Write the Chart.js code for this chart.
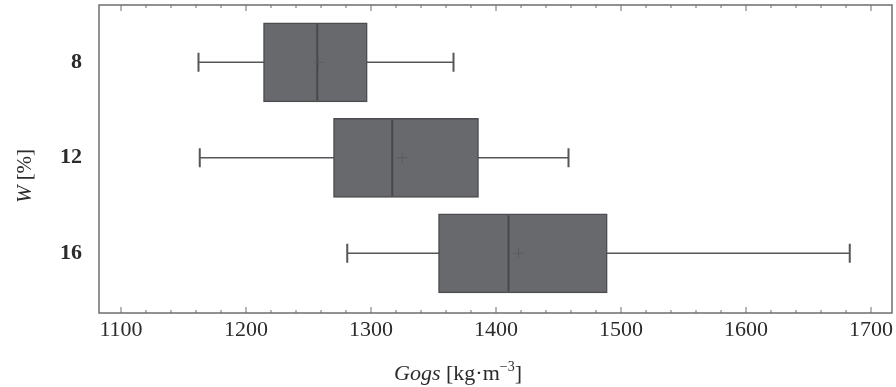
<!DOCTYPE html>
<html>
<head>
<meta charset="utf-8">
<script src="https://cdn.jsdelivr.net/npm/chart.js@4.4.1/dist/chart.umd.min.js"></script>
<style>
  html, body { margin: 0; padding: 0; background: #fff; }
  #wrap { width: 896px; height: 387px; position: relative; }
</style>
</head>
<body>
<div id="wrap"><canvas id="chart" width="896" height="387"></canvas></div>
<script>
// W [%] groups and their box-plot statistics (Gogs, kg/m3)
const groups = [8, 12, 16];
const whiskerLow = [1162, 1163, 1281];
const quartile1 = [1214, 1270, 1354];
const medians = [1257, 1317, 1410];
const means = [1258, 1325, 1418];
const quartile3 = [1297, 1386, 1489];
const whiskerHigh = [1366, 1458, 1683];

const xTicks = [1100, 1200, 1300, 1400, 1500, 1600, 1700];
const xMinorStep = 20;

const boxFill = '#68696d';
const boxEdge = '#4c4d51';
const lineColor = '#55565a';
const frameColor = '#6e6e6e';
const textColor = '#2b2b2b';
const serif = '"Liberation Serif", "DejaVu Serif", serif';

// whiskers, medians, means, frame and inward ticks
const boxExtras = {
  id: 'boxExtras',
  beforeDatasetsDraw(chart) {
    const { ctx, scales: { x, y } } = chart;
    ctx.save();
    ctx.strokeStyle = lineColor;
    groups.forEach((g, i) => {
      const cy = y.getPixelForValue(g);
      const lo = x.getPixelForValue(whiskerLow[i]);
      const hi = x.getPixelForValue(whiskerHigh[i]);
      ctx.lineWidth = 1.5;
      ctx.beginPath();
      ctx.moveTo(lo, cy); ctx.lineTo(hi, cy);
      ctx.stroke();
      ctx.lineWidth = 2;
      ctx.beginPath();
      ctx.moveTo(lo, cy - 9.5); ctx.lineTo(lo, cy + 9.5);
      ctx.moveTo(hi, cy - 9.5); ctx.lineTo(hi, cy + 9.5);
      ctx.stroke();
    });
    ctx.restore();
  },
  afterDatasetsDraw(chart) {
    const { ctx, chartArea: a, scales: { x, y } } = chart;
    ctx.save();
    groups.forEach((g, i) => {
      const cy = y.getPixelForValue(g);
      const half = 38;
      const mx = x.getPixelForValue(medians[i]);
      ctx.strokeStyle = '#47484b';
      ctx.lineWidth = 2;
      ctx.beginPath();
      ctx.moveTo(mx, cy - half); ctx.lineTo(mx, cy + half);
      ctx.stroke();
      const px = x.getPixelForValue(means[i]);
      ctx.strokeStyle = '#5a5b5e';
      ctx.lineWidth = 1;
      ctx.beginPath();
      ctx.moveTo(px - 5, cy); ctx.lineTo(px + 5, cy);
      ctx.moveTo(px, cy - 5); ctx.lineTo(px, cy + 5);
      ctx.stroke();
    });

    // frame
    ctx.strokeStyle = frameColor;
    ctx.lineWidth = 1.5;
    ctx.strokeRect(a.left, a.top, a.right - a.left, a.bottom - a.top);

    // inward ticks on bottom and top
    ctx.lineWidth = 1;
    for (let v = xTicks[0]; v <= xTicks[xTicks.length - 1]; v += xMinorStep) {
      const px = x.getPixelForValue(v);
      const len = xTicks.includes(v) ? 6 : 3;
      ctx.beginPath();
      ctx.moveTo(px, a.bottom); ctx.lineTo(px, a.bottom - len);
      ctx.moveTo(px, a.top); ctx.lineTo(px, a.top + len);
      ctx.stroke();
    }

    // axis titles with mixed styles
    ctx.fillStyle = textColor;
    ctx.textBaseline = 'alphabetic';
    ctx.textAlign = 'left';
    const parts = [
      { t: 'Gogs', f: 'italic 22px ' + serif, dy: 0 },
      { t: ' [kg\u00b7m', f: '22px ' + serif, dy: 0 },
      { t: '\u22123', f: '14px ' + serif, dy: -9 },
      { t: ']', f: '22px ' + serif, dy: 0 }
    ];
    let total = 0;
    parts.forEach(p => { ctx.font = p.f; total += ctx.measureText(p.t).width; });
    let tx = 458 - total / 2;
    parts.forEach(p => {
      ctx.font = p.f;
      ctx.fillText(p.t, tx, 380 + p.dy);
      tx += ctx.measureText(p.t).width;
    });

    ctx.translate(31, 176);
    ctx.rotate(-Math.PI / 2);
    const yParts = [
      { t: 'W', f: 'italic 21px ' + serif },
      { t: ' [%]', f: '21px ' + serif }
    ];
    total = 0;
    yParts.forEach(p => { ctx.font = p.f; total += ctx.measureText(p.t).width; });
    tx = -total / 2;
    yParts.forEach(p => {
      ctx.font = p.f;
      ctx.fillText(p.t, tx, 0);
      tx += ctx.measureText(p.t).width;
    });
    ctx.restore();
  }
};

const ctx = document.getElementById('chart').getContext('2d');
new Chart(ctx, {
  type: 'bar',
  data: {
    datasets: [{
      data: groups.map((g, i) => ({ x: [quartile1[i], quartile3[i]], y: g })),
      backgroundColor: boxFill,
      borderColor: boxEdge,
      borderWidth: 1.5,
      borderSkipped: false,
      barThickness: 79
    }]
  },
  options: {
    indexAxis: 'y',
    responsive: false,
    animation: false,
    layout: { padding: { top: 5, right: 4, left: 0, bottom: 0 } },
    plugins: { legend: { display: false }, tooltip: { enabled: false } },
    scales: {
      x: {
        type: 'linear',
        min: 1082.4,
        max: 1716.8,
        grid: { display: false },
        border: { display: false },
        afterBuildTicks(scale) { scale.ticks = xTicks.map(v => ({ value: v })); },
        afterFit(scale) {
          scale.height = 74;
          scale.paddingLeft = 0;
          scale.paddingRight = 0;
        },
        ticks: {
          color: textColor,
          padding: -4,
          maxRotation: 0,
          autoSkip: false,
          font: { family: serif, size: 22 },
          callback: v => String(v)
        }
      },
      y: {
        type: 'linear',
        reverse: true,
        offset: false,
        min: 5.6,
        max: 18.5,
        grid: { display: false },
        border: { display: false },
        afterBuildTicks(scale) { scale.ticks = groups.map(v => ({ value: v })); },
        afterFit(scale) {
          scale.width = 99;
          scale.paddingTop = 0;
          scale.paddingBottom = 0;
        },
        ticks: {
          color: textColor,
          padding: 9,
          font: { family: serif, size: 22, weight: 'bold' }
        }
      }
    }
  },
  plugins: [boxExtras]
});
</script>
</body>
</html>
